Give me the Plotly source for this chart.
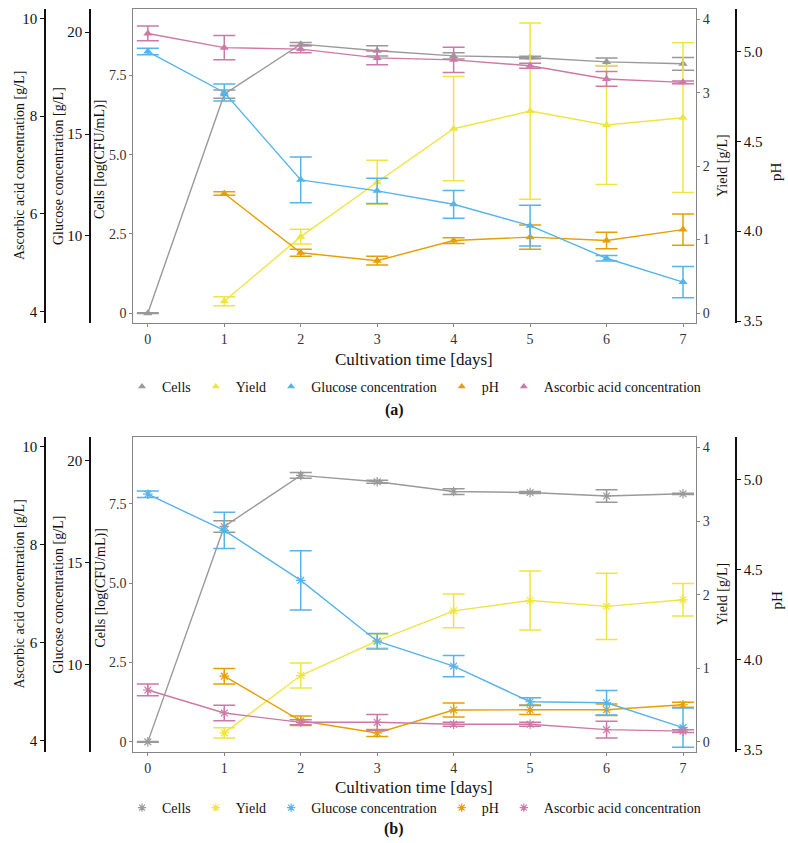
import plotly.graph_objects as go

# ---------------- data ----------------
days = [0, 1, 2, 3, 4, 5, 6, 7]
days_y = [1, 2, 3, 4, 5, 6, 7]

# Panel (a)
a_cells = [0.0, 6.91, 8.49, 8.28, 8.12, 8.07, 7.93, 7.87]
a_cells_err = [0.01, 0.13, 0.05, 0.16, 0.10, 0.04, 0.12, 0.20]
a_yield = [0.16, 1.04, 1.78, 2.51, 2.75, 2.56, 2.66]
a_yield_err = [0.06, 0.10, 0.30, 0.71, 1.20, 0.81, 1.02]
a_glucose = [19.05, 17.04, 12.75, 12.21, 11.55, 10.50, 8.90, 7.73]
a_glucose_err = [0.16, 0.42, 1.12, 0.62, 0.68, 1.00, 0.14, 0.77]
a_ph = [4.21, 3.88, 3.836, 3.948, 3.967, 3.948, 4.009]
a_ph_err = [0.01, 0.02, 0.024, 0.016, 0.067, 0.046, 0.087]
a_asc = [9.69, 9.40, 9.37, 9.19, 9.15, 9.03, 8.76, 8.69]
a_asc_err = [0.15, 0.25, 0.075, 0.14, 0.26, 0.05, 0.15, 0.03]

# Panel (b)
b_cells = [0.0, 6.79, 8.40, 8.20, 7.89, 7.86, 7.75, 7.82]
b_cells_err = [0.01, 0.18, 0.09, 0.05, 0.09, 0.03, 0.20, 0.02]
b_yield = [0.12, 0.90, 1.37, 1.78, 1.92, 1.84, 1.93]
b_yield_err = [0.07, 0.17, 0.095, 0.23, 0.40, 0.45, 0.22]
b_glucose = [18.35, 16.57, 14.12, 11.14, 9.92, 8.17, 8.12, 6.90]
b_glucose_err = [0.16, 0.89, 1.45, 0.38, 0.52, 0.19, 0.60, 0.96]
b_ph = [3.909, 3.661, 3.593, 3.721, 3.722, 3.722, 3.75]
b_ph_err = [0.043, 0.027, 0.02, 0.039, 0.026, 0.032, 0.014]
b_asc = [5.03, 4.56, 4.37, 4.37, 4.33, 4.33, 4.22, 4.19]
b_asc_err = [0.12, 0.16, 0.05, 0.16, 0.04, 0.04, 0.17, 0.03]

series_names = ["Cells", "Yield", "Glucose concentration", "pH", "Ascorbic acid concentration"]
colors = ["#999999", "#F0E442", "#56B4E9", "#E69F00", "#CC79A7"]

x_ticks = [0, 1, 2, 3, 4, 5, 6, 7]
cells_ticks = [0, 2.5, 5, 7.5]
cells_ticktext = ["0", "2.5", "5.0", "7.5"]
yield_ticks = [0, 1, 2, 3, 4]
ph_ticks = [3.5, 4.0, 4.5, 5.0]
glucose_ticks = [10, 15, 20]
asc_ticks = [4, 6, 8, 10]

# ---------------- layout geometry ----------------
W, H = 788, 843
FONT = "Liberation Serif"
def px_x(p):
    return p / W
def px_y(p):
    return 1 - p / H

x_dom = [px_x(133.3), px_x(696)]
dom_a = [px_y(323), px_y(9)]
dom_b = [px_y(751.7), px_y(437.3)]

fig = go.Figure()

def add_panel(data, axes, legend, symbol):
    for (xs, ys, errs), name, color, yax in zip(data, series_names, colors, axes):
        if symbol.startswith("asterisk"):
            marker = dict(symbol=symbol, size=8, color=color, line=dict(color=color, width=1.2))
            lmarker = dict(symbol=symbol, size=7, color=color, line=dict(color=color, width=1.2))
        else:
            marker = dict(symbol=symbol, size=8, color=color)
            lmarker = dict(symbol=symbol, size=7, color=color)
        fig.add_trace(go.Scatter(
            x=xs, y=ys, name=name, mode="lines+markers",
            line=dict(color=color, width=1.4),
            marker=marker,
            error_y=dict(type="data", array=errs, visible=True, color=color,
                         thickness=1.5, width=11),
            xaxis=axes[5], yaxis=yax, legend=legend, showlegend=False,
            legendgroup=legend + name,
        ))
        # legend entry (marker-only key, like the reference)
        fig.add_trace(go.Scatter(
            x=[None], y=[None], name=name, mode="markers", marker=lmarker,
            xaxis=axes[5], yaxis=yax, legend=legend, showlegend=True,
            legendgroup=legend + name,
        ))

data_a = [(days, a_cells, a_cells_err), (days_y, a_yield, a_yield_err),
          (days, a_glucose, a_glucose_err), (days_y, a_ph, a_ph_err),
          (days, a_asc, a_asc_err)]
data_b = [(days, b_cells, b_cells_err), (days_y, b_yield, b_yield_err),
          (days, b_glucose, b_glucose_err), (days_y, b_ph, b_ph_err),
          (days, b_asc, b_asc_err)]

# order in axes list: cells, yield, glucose, pH, ascorbic, xaxis
add_panel(data_a, ["y", "y2", "y4", "y3", "y5", "x"], "legend", "triangle-up")
add_panel(data_b, ["y6", "y7", "y9", "y8", "y10", "x2"], "legend2", "asterisk-open")

box_col = "#858585"
tick_font = dict(family=FONT, size=14, color="#333333")
blk_font = dict(family=FONT, size=15, color="#111111")

def main_x(dom_anchor):
    return dict(domain=x_dom, range=[-0.19, 7.17], anchor=dom_anchor,
                tickvals=x_ticks, showline=True, linecolor=box_col, linewidth=1,
                mirror=True, ticks="outside", ticklen=3, tickcolor=box_col,
                tickfont=tick_font, showgrid=False, zeroline=False)

def cells_y(dom, anchor):
    return dict(domain=dom, range=[-0.31, 9.6], anchor=anchor,
                tickvals=cells_ticks, ticktext=cells_ticktext,
                showline=True, linecolor=box_col, linewidth=1, mirror=True,
                ticks="outside", ticklen=3, tickcolor=box_col,
                tickfont=tick_font, showgrid=False, zeroline=False)

def yield_y(dom, anchor, over):
    return dict(domain=dom, range=[-0.136, 4.14], anchor=anchor, overlaying=over,
                side="right", tickvals=yield_ticks, showline=True,
                linecolor=box_col, linewidth=1, ticks="outside", ticklen=3,
                tickcolor=box_col, tickfont=tick_font, showgrid=False, zeroline=False)

def free_y(dom, over, rng, ticks, pos, side, fmt=None):
    d = dict(domain=dom, range=rng, anchor="free", position=pos, overlaying=over,
             side=side, tickvals=ticks, showline=True, linecolor="#111111",
             linewidth=1.6, ticks="outside", ticklen=4, tickcolor="#111111",
             tickfont=blk_font, showgrid=False, zeroline=False)
    if fmt:
        d["tickformat"] = fmt
    return d

ph_rng = [3.489, 5.237]
glu_rng = [5.72, 21.14]
asc_rng = [3.77, 10.19]

fig.update_layout(
    width=W, height=H,
    margin=dict(l=0, r=0, t=0, b=0, autoexpand=False),
    paper_bgcolor="white", plot_bgcolor="white",
    font=dict(family=FONT, color="#111111"),
    xaxis=main_x("y"),
    xaxis2=main_x("y6"),
    yaxis=cells_y(dom_a, "x"),
    yaxis2=yield_y(dom_a, "x", "y"),
    yaxis3=free_y(dom_a, "y", ph_rng, ph_ticks, px_x(736), "right", ".1f"),
    yaxis4=free_y(dom_a, "y", glu_rng, glucose_ticks, px_x(90), "left"),
    yaxis5=free_y(dom_a, "y", asc_rng, asc_ticks, px_x(45), "left"),
    yaxis6=cells_y(dom_b, "x2"),
    yaxis7=yield_y(dom_b, "x2", "y6"),
    yaxis8=free_y(dom_b, "y6", ph_rng, ph_ticks, px_x(736), "right", ".1f"),
    yaxis9=free_y(dom_b, "y6", glu_rng, glucose_ticks, px_x(90), "left"),
    yaxis10=free_y(dom_b, "y6", asc_rng, asc_ticks, px_x(45), "left"),
    legend=dict(orientation="h", x=px_x(414), xanchor="center", y=px_y(387),
                yanchor="middle", font=dict(family=FONT, size=14, color="#111111"),
                itemwidth=30, tracegroupgap=0, bgcolor="rgba(0,0,0,0)"),
    legend2=dict(orientation="h", x=px_x(414), xanchor="center", y=px_y(808),
                 yanchor="middle", font=dict(family=FONT, size=14, color="#111111"),
                 itemwidth=30, tracegroupgap=0, bgcolor="rgba(0,0,0,0)"),
    showlegend=True,
)

def ann(text, x, y, size=14, angle=0, bold=False):
    if bold:
        text = "<b>" + text + "</b>"
    fig.add_annotation(text=text, x=px_x(x), y=px_y(y), xref="paper", yref="paper",
                       showarrow=False, textangle=angle, xanchor="center", yanchor="middle",
                       font=dict(family=FONT, size=size, color="#111111"))

for yc in [166, 594.5]:
    ann("Ascorbic acid concentration [g/L]", 19, yc, 14, -90)
    ann("Glucose concentration [g/L]", 58, yc, 14, -90)
    ann("Cells [log(CFU/mL)]", 100, yc - 6, 14, -90)
    ann("Yield [g/L]", 722, yc, 14, -90)
    ann("pH", 776, yc + 6, 15, -90)

ann("Cultivation time [days]", 414, 360, 17)
ann("Cultivation time [days]", 414, 787, 17)
ann("(a)", 394, 410, 16, bold=True)
ann("(b)", 394, 829, 16, bold=True)

# pin the figure to the top-left of the 788x843 window (no default page margin / scrolling)
post = (
    "document.documentElement.style.margin='0px';"
    "document.body.style.margin='0px';"
    "document.documentElement.style.overflow='hidden';"
    "document.body.style.overflow='hidden';"
    "var gd=document.getElementsByClassName('plotly-graph-div')[0];"
    "gd.style.position='fixed';gd.style.top='0px';gd.style.left='0px';"
)
fig.write_html("out.html", config={"displayModeBar": False}, post_script=post)
